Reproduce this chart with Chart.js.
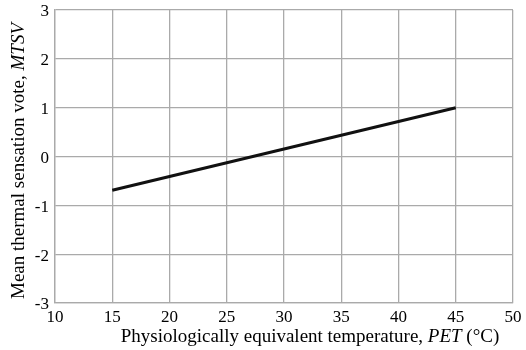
<!DOCTYPE html>
<html>
<head>
<meta charset="utf-8">
<script src="https://cdn.jsdelivr.net/npm/chart.js@4"></script>
<style>
  body { margin: 0; background: #fff; }
  #wrap { width: 526px; height: 350px; }
</style>
</head>
<body>
<div id="wrap"><canvas id="chart" width="526" height="350"></canvas></div>
<script>
const petValues = [15, 45];
const mtsvValues = [-0.69, 1.0];
const xTicks = [10, 15, 20, 25, 30, 35, 40, 45, 50];
const yTicks = [-3, -2, -1, 0, 1, 2, 3];

const serif = '"Liberation Serif", "Times New Roman", serif';

// draws the axis titles with the italic symbol part
const axisTitles = {
    id: 'axisTitles',
    afterDraw(chart) {
        const ctx = chart.ctx;
        ctx.save();
        ctx.fillStyle = '#000';
        ctx.textBaseline = 'middle';

        const parts = [
            ['Physiologically equivalent temperature, ', 'normal'],
            ['PET', 'italic'],
            [' (\u00B0C)', 'normal']
        ];
        drawParts(ctx, parts, 310, 337, 19);

        ctx.translate(19, 161);
        ctx.rotate(-Math.PI / 2);
        const yParts = [
            ['Mean thermal sensation vote, ', 'normal'],
            ['MTSV', 'italic']
        ];
        drawParts(ctx, yParts, 0, 0, 19);
        ctx.restore();
    }
};

function drawParts(ctx, parts, cx, cy, size) {
    let total = 0;
    parts.forEach(p => {
        ctx.font = p[1] + ' ' + size + 'px ' + serif;
        total += ctx.measureText(p[0]).width;
    });
    let x = cx - total / 2;
    ctx.textAlign = 'left';
    parts.forEach(p => {
        ctx.font = p[1] + ' ' + size + 'px ' + serif;
        ctx.fillText(p[0], x, cy);
        x += ctx.measureText(p[0]).width;
    });
}

new Chart(document.getElementById('chart'), {
    type: 'scatter',
    data: {
        datasets: [{
            data: petValues.map((v, i) => ({ x: v, y: mtsvValues[i] })),
            showLine: true,
            borderColor: '#111',
            borderWidth: 3,
            pointRadius: 0,
            fill: false
        }]
    },
    options: {
        responsive: false,
        animation: false,
        layout: { padding: { top: 10, right: 13, left: 0, bottom: 0 } },
        plugins: { legend: { display: false }, tooltip: { enabled: false } },
        scales: {
            x: {
                type: 'linear',
                min: 10,
                max: 50,
                afterBuildTicks: s => { s.ticks = xTicks.map(v => ({ value: v })); },
                afterFit: s => { s.height = 47; s.paddingLeft = 0; s.paddingRight = 0; },
                grid: { color: '#aaa', lineWidth: 1.3, drawTicks: false },
                border: { color: '#aaa', width: 1.3 },
                ticks: { color: '#000', padding: 4, font: { family: serif, size: 17 } }
            },
            y: {
                type: 'linear',
                min: -3,
                max: 3,
                afterBuildTicks: s => { s.ticks = yTicks.map(v => ({ value: v })); },
                afterFit: s => { s.width = 55; s.paddingTop = 0; s.paddingBottom = 0; },
                grid: { color: '#aaa', lineWidth: 1.3, drawTicks: false },
                border: { color: '#aaa', width: 1.3 },
                ticks: { color: '#000', padding: 6, labelOffset: 2, font: { family: serif, size: 17 } }
            }
        }
    },
    plugins: [axisTitles]
});
</script>
</body>
</html>
